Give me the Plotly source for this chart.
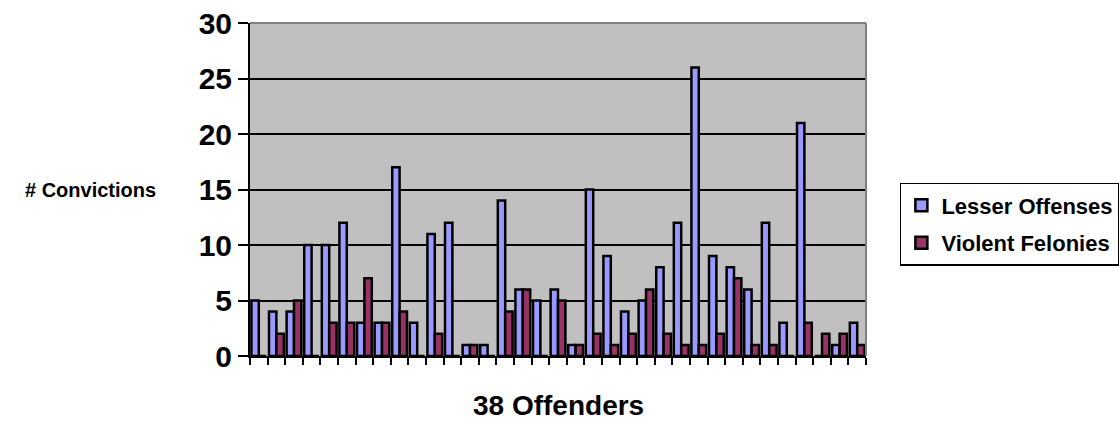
import plotly.graph_objects as go

# Conviction counts per offender
offenders = [str(i) for i in range(1, 36)]
lesser_offenses = [5, 4, 4, 10, 10, 12, 3, 3, 17, 3, 11, 12, 1, 1, 14, 6, 5, 6, 1, 15,
                   9, 4, 5, 8, 12, 26, 9, 8, 6, 12, 3, 21, 0, 1, 3]
violent_felonies = [0, 2, 5, 0, 3, 3, 7, 3, 4, 0, 2, 0, 1, 0, 4, 6, 0, 5, 1, 2,
                    1, 2, 6, 2, 1, 1, 2, 7, 1, 1, 0, 3, 2, 2, 1]
y_ticks = [0, 5, 10, 15, 20, 25, 30]

FONT = "Liberation Sans, Arial, sans-serif"

fig = go.Figure()
fig.add_trace(go.Bar(
    x=offenders, y=lesser_offenses, name="Lesser Offenses",
    marker=dict(color="#9999FF", line=dict(color="black", width=2.5)),
    legendgroup="a",
))
fig.add_trace(go.Bar(
    x=offenders, y=violent_felonies, name="Violent Felonies",
    marker=dict(color="#993366", line=dict(color="black", width=2.5)),
    legendgroup="b",
))

fig.update_layout(
    width=1119, height=423,
    margin=dict(l=250, r=253, t=23, b=67, autoexpand=False),
    paper_bgcolor="white",
    plot_bgcolor="#C0C0C0",
    barmode="group",
    bargap=0.16,
    bargroupgap=0,
    font=dict(family=FONT, color="black"),
    legend=dict(
        x=1.055, y=0.52, xanchor="left", yanchor="top",
        bordercolor="black", borderwidth=1.5,
        font=dict(size=22, family=FONT, weight="bold"),
        tracegroupgap=6,
        itemwidth=30,
    ),
    showlegend=True,
)

fig.update_xaxes(
    type="category",
    showticklabels=False,
    tickson="boundaries",
    ticks="outside", ticklen=7, tickwidth=1.5, tickcolor="black",
    showline=True, linecolor="black", linewidth=2,
    showgrid=False,
)
fig.update_yaxes(
    range=[0, 30],
    tickmode="array", tickvals=y_ticks,
    ticks="outside", ticklen=10, tickwidth=1.5, tickcolor="black",
    tickfont=dict(size=30, family=FONT, weight="bold"),
    showline=True, linecolor="black", linewidth=2,
    showgrid=True, gridcolor="black", gridwidth=1.5,
    zeroline=False,
)

# Grey frame on the top and right of the plot area
fig.add_shape(type="line", xref="paper", yref="paper", x0=0, x1=1, y0=1, y1=1,
              line=dict(color="#808080", width=2), layer="above")
fig.add_shape(type="line", xref="paper", yref="paper", x0=1, x1=1, y0=0, y1=1,
              line=dict(color="#808080", width=2), layer="above")

fig.add_annotation(
    text="# Convictions", xref="paper", yref="paper",
    x=-0.149, y=0.5, xanchor="right", yanchor="middle", showarrow=False,
    font=dict(size=20, family=FONT, weight="bold"),
)
fig.add_annotation(
    text="38 Offenders", xref="paper", yref="paper",
    x=0.5, y=-0.15, xanchor="center", yanchor="middle", showarrow=False,
    font=dict(size=28, family=FONT, weight="bold"),
)

fig.write_html("out.html")
